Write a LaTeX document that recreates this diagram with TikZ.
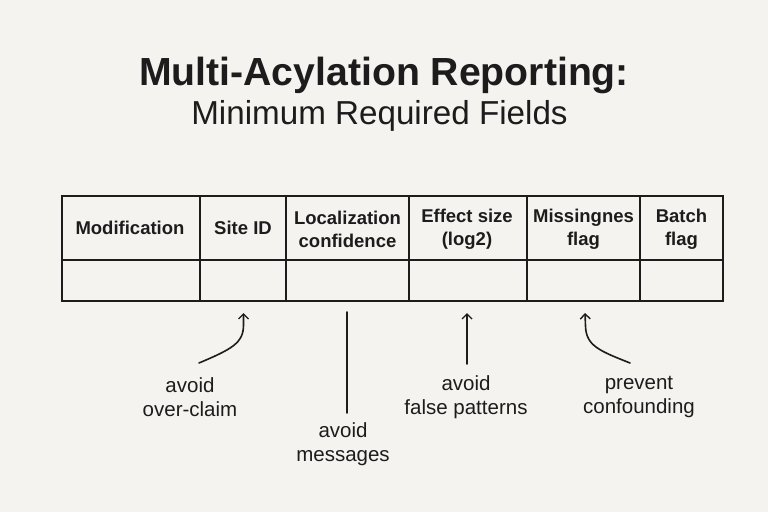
\documentclass[tikz,border=0pt]{standalone}
\usepackage{fontspec}
\setmainfont{Liberation Sans}
\usetikzlibrary{arrows.meta}
\definecolor{bg}{HTML}{F5F3EF}
\definecolor{ink}{HTML}{1C1C1C}
\begin{document}
\begin{tikzpicture}[x=1pt,y=-1pt,
  hdr/.style={font=\bfseries\fontsize{18.5}{22.5}\selectfont, text=ink, align=center, inner sep=0pt},
  lbl/.style={font=\fontsize{20.5}{24.5}\selectfont, text=ink, align=center, inner sep=0pt},
  grid/.style={draw=ink, line width=1.6pt},
  conn/.style={draw=ink, line width=1.6pt, line cap=round},
  tip/.style={-{Straight Barb[length=5pt,width=10pt,line width=1.4pt]}}]
\useasboundingbox[fill=bg] (0,0) rectangle (768,512);
% title
\node[font=\bfseries\fontsize{39.2}{44}\selectfont, text=ink, inner sep=0pt] (title) at (384,75) {Multi-Acylation Reporting:};
\node[font=\fontsize{33.2}{38}\selectfont, text=ink, inner sep=0pt] (subtitle) at (379.5,116) {Minimum Required Fields};
% table
\draw[grid] (62,196) rectangle (723,301);
\draw[grid] (62,260) -- (723,260);
\foreach \x in {200,286,409,527,640} \draw[grid] (\x,196) -- (\x,301);
% header texts
\node[hdr] (h1) at (130,228) {Modification};
\node[hdr] (h2) at (243,228) {Site ID};
\node[hdr] (h3) at (347.5,229.5) {Localization\\confidence};
\node[hdr] (h4) at (467,229.5) {Effect size\\(log2)};
\node[hdr] (h5) at (583.5,229.5) {Missingnes\\flag};
\node[hdr] (h6) at (681.5,229.5) {Batch\\flag};
% labels
\node[lbl] (l1) at (190,397) {avoid\\over-claim};
\node[lbl] (l2) at (343,444) {avoid\\messages};
\node[lbl] (l3) at (466,397) {avoid\\false patterns};
\node[lbl] (l4) at (639,397) {prevent\\confounding};
% connector coordinates
\coordinate (t2) at (243.5,313);
\coordinate (s2) at (199,363);
\coordinate (t3a) at (347,312);
\coordinate (t3b) at (347,413);
\coordinate (t4) at (467,313);
\coordinate (s4) at (467,364);
\coordinate (t5) at (585,313);
\coordinate (s5) at (630,363);
% connectors
\draw[conn,tip] (s2) .. controls (232,349) and (243.5,343) .. (243.5,325) -- (t2);
\draw[conn] (t3a) -- (t3b);
\draw[conn,tip] (s4) -- (t4);
\draw[conn,tip] (s5) .. controls (600,351) and (586,346) .. (585.5,326) -- (t5);
\end{tikzpicture}
\end{document}
